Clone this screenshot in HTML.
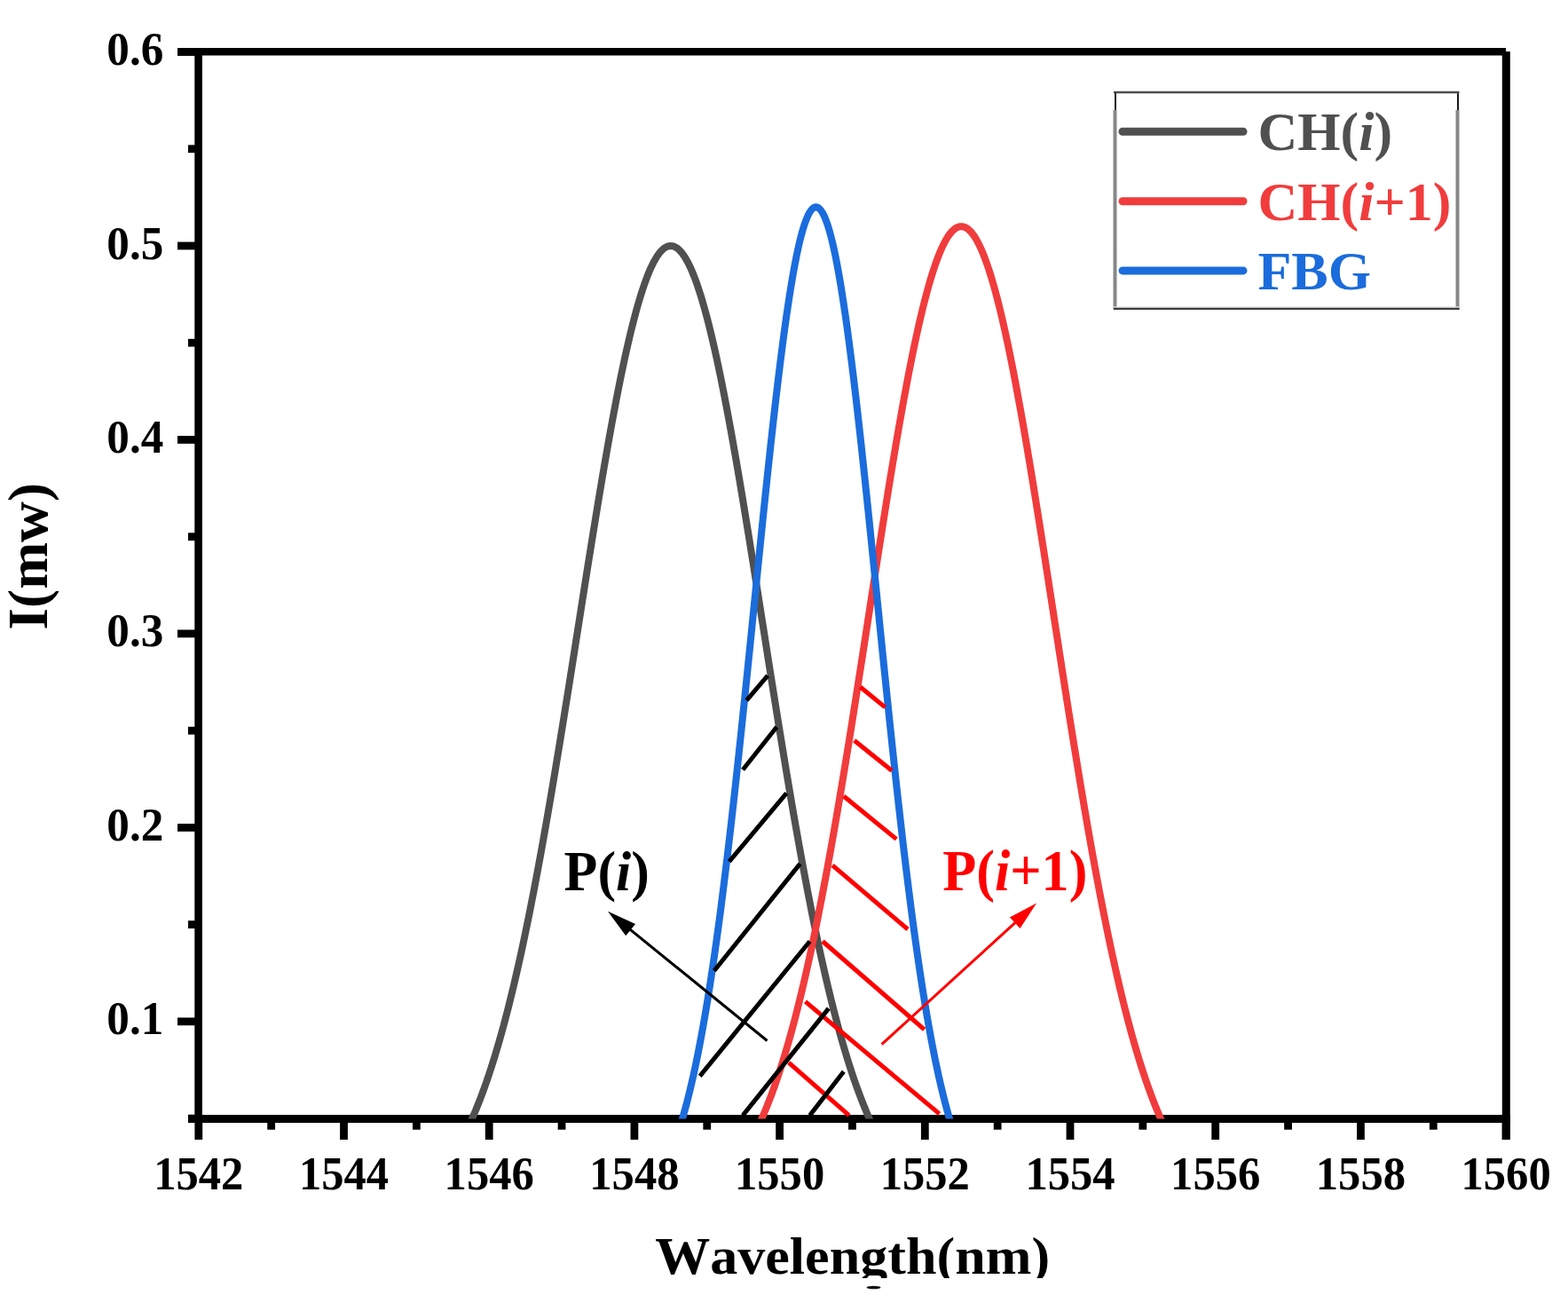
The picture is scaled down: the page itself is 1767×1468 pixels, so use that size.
<!DOCTYPE html>
<html><head><meta charset="utf-8"><title>Spectrum</title>
<style>
html,body{margin:0;padding:0;background:#fff;overflow:hidden;}
svg{display:block;}
text{font-family:"Liberation Serif","Times New Roman",serif;font-weight:bold;font-kerning:none;}
</style></head>
<body>
<svg width="1767" height="1468" viewBox="0 0 1767 1468">
<defs><clipPath id="plot"><rect x="0" y="0" width="1767" height="1260.5"/></clipPath></defs>
<rect width="1767" height="1468" fill="#fff"/>

<line x1="223.6" y1="54" x2="223.6" y2="1265" stroke="#000" stroke-width="8.6"/>
<line x1="212" y1="1260.5" x2="1702" y2="1260.5" stroke="#000" stroke-width="9"/>
<line x1="200" y1="58.2" x2="1697" y2="58.2" stroke="#000" stroke-width="8.5"/>
<line x1="1697.3" y1="58" x2="1697.3" y2="1284" stroke="#000" stroke-width="9"/>

<line x1="212" y1="1260.11" x2="224" y2="1260.11" stroke="#000" stroke-width="8.8"/><line x1="200" y1="1150.88" x2="224" y2="1150.88" stroke="#000" stroke-width="8.8"/><line x1="212" y1="1041.64" x2="224" y2="1041.64" stroke="#000" stroke-width="8.8"/><line x1="200" y1="932.40" x2="224" y2="932.40" stroke="#000" stroke-width="8.8"/><line x1="212" y1="823.16" x2="224" y2="823.16" stroke="#000" stroke-width="8.8"/><line x1="200" y1="713.92" x2="224" y2="713.92" stroke="#000" stroke-width="8.8"/><line x1="212" y1="604.69" x2="224" y2="604.69" stroke="#000" stroke-width="8.8"/><line x1="200" y1="495.45" x2="224" y2="495.45" stroke="#000" stroke-width="8.8"/><line x1="212" y1="386.21" x2="224" y2="386.21" stroke="#000" stroke-width="8.8"/><line x1="200" y1="276.97" x2="224" y2="276.97" stroke="#000" stroke-width="8.8"/><line x1="212" y1="167.74" x2="224" y2="167.74" stroke="#000" stroke-width="8.8"/><line x1="200" y1="58.50" x2="224" y2="58.50" stroke="#000" stroke-width="8.8"/><line x1="223.80" y1="1260" x2="223.80" y2="1284" stroke="#000" stroke-width="8.8"/><line x1="305.65" y1="1260" x2="305.65" y2="1272.7" stroke="#000" stroke-width="8.8"/><line x1="387.50" y1="1260" x2="387.50" y2="1284" stroke="#000" stroke-width="8.8"/><line x1="469.35" y1="1260" x2="469.35" y2="1272.7" stroke="#000" stroke-width="8.8"/><line x1="551.20" y1="1260" x2="551.20" y2="1284" stroke="#000" stroke-width="8.8"/><line x1="633.05" y1="1260" x2="633.05" y2="1272.7" stroke="#000" stroke-width="8.8"/><line x1="714.90" y1="1260" x2="714.90" y2="1284" stroke="#000" stroke-width="8.8"/><line x1="796.75" y1="1260" x2="796.75" y2="1272.7" stroke="#000" stroke-width="8.8"/><line x1="878.60" y1="1260" x2="878.60" y2="1284" stroke="#000" stroke-width="8.8"/><line x1="960.45" y1="1260" x2="960.45" y2="1272.7" stroke="#000" stroke-width="8.8"/><line x1="1042.30" y1="1260" x2="1042.30" y2="1284" stroke="#000" stroke-width="8.8"/><line x1="1124.15" y1="1260" x2="1124.15" y2="1272.7" stroke="#000" stroke-width="8.8"/><line x1="1206.00" y1="1260" x2="1206.00" y2="1284" stroke="#000" stroke-width="8.8"/><line x1="1287.85" y1="1260" x2="1287.85" y2="1272.7" stroke="#000" stroke-width="8.8"/><line x1="1369.70" y1="1260" x2="1369.70" y2="1284" stroke="#000" stroke-width="8.8"/><line x1="1451.55" y1="1260" x2="1451.55" y2="1272.7" stroke="#000" stroke-width="8.8"/><line x1="1533.40" y1="1260" x2="1533.40" y2="1284" stroke="#000" stroke-width="8.8"/><line x1="1615.25" y1="1260" x2="1615.25" y2="1272.7" stroke="#000" stroke-width="8.8"/><line x1="1697.10" y1="1260" x2="1697.10" y2="1284" stroke="#000" stroke-width="8.8"/>
<path d="M387.50,1367.22 L389.34,1367.08 L391.18,1366.93 L393.02,1366.78 L394.87,1366.62 L396.71,1366.45 L398.55,1366.27 L400.39,1366.07 L402.23,1365.87 L404.07,1365.66 L405.92,1365.43 L407.76,1365.19 L409.60,1364.94 L411.44,1364.67 L413.28,1364.39 L415.12,1364.10 L416.97,1363.79 L418.81,1363.46 L420.65,1363.12 L422.49,1362.75 L424.33,1362.37 L426.17,1361.97 L428.02,1361.55 L429.86,1361.10 L431.70,1360.63 L433.54,1360.14 L435.38,1359.63 L437.22,1359.09 L439.07,1358.52 L440.91,1357.93 L442.75,1357.30 L444.59,1356.65 L446.43,1355.96 L448.27,1355.24 L450.12,1354.49 L451.96,1353.71 L453.80,1352.88 L455.64,1352.02 L457.48,1351.12 L459.32,1350.18 L461.17,1349.19 L463.01,1348.16 L464.85,1347.09 L466.69,1345.97 L468.53,1344.80 L470.37,1343.58 L472.21,1342.31 L474.06,1340.98 L475.90,1339.60 L477.74,1338.16 L479.58,1336.66 L481.42,1335.10 L483.26,1333.48 L485.11,1331.79 L486.95,1330.03 L488.79,1328.21 L490.63,1326.31 L492.47,1324.34 L494.31,1322.29 L496.16,1320.17 L498.00,1317.97 L499.84,1315.68 L501.68,1313.31 L503.52,1310.86 L505.36,1308.31 L507.21,1305.68 L509.05,1302.95 L510.89,1300.12 L512.73,1297.20 L514.57,1294.18 L516.41,1291.06 L518.26,1287.83 L520.10,1284.50 L521.94,1281.06 L523.78,1277.50 L525.62,1273.84 L527.46,1270.05 L529.31,1266.16 L531.15,1262.14 L532.99,1257.99 L534.83,1253.73 L536.67,1249.34 L538.51,1244.82 L540.35,1240.17 L542.20,1235.39 L544.04,1230.48 L545.88,1225.43 L547.72,1220.24 L549.56,1214.92 L551.40,1209.45 L553.25,1203.84 L555.09,1198.09 L556.93,1192.20 L558.77,1186.16 L560.61,1179.97 L562.45,1173.63 L564.30,1167.15 L566.14,1160.51 L567.98,1153.73 L569.82,1146.79 L571.66,1139.71 L573.50,1132.47 L575.35,1125.08 L577.19,1117.53 L579.03,1109.84 L580.87,1101.99 L582.71,1093.99 L584.55,1085.85 L586.40,1077.55 L588.24,1069.10 L590.08,1060.50 L591.92,1051.76 L593.76,1042.87 L595.60,1033.84 L597.45,1024.66 L599.29,1015.34 L601.13,1005.89 L602.97,996.30 L604.81,986.58 L606.65,976.72 L608.50,966.74 L610.34,956.63 L612.18,946.40 L614.02,936.05 L615.86,925.58 L617.70,915.01 L619.54,904.33 L621.39,893.54 L623.23,882.66 L625.07,871.69 L626.91,860.62 L628.75,849.47 L630.59,838.25 L632.44,826.94 L634.28,815.58 L636.12,804.15 L637.96,792.66 L639.80,781.12 L641.64,769.54 L643.49,757.93 L645.33,746.28 L647.17,734.61 L649.01,722.92 L650.85,711.22 L652.69,699.52 L654.54,687.82 L656.38,676.14 L658.22,664.47 L660.06,652.84 L661.90,641.23 L663.74,629.67 L665.59,618.16 L667.43,606.71 L669.27,595.33 L671.11,584.02 L672.95,572.80 L674.79,561.66 L676.64,550.63 L678.48,539.70 L680.32,528.89 L682.16,518.21 L684.00,507.66 L685.84,497.25 L687.68,486.99 L689.53,476.88 L691.37,466.95 L693.21,457.18 L695.05,447.60 L696.89,438.21 L698.73,429.02 L700.58,420.03 L702.42,411.25 L704.26,402.70 L706.10,394.37 L707.94,386.28 L709.78,378.43 L711.63,370.83 L713.47,363.48 L715.31,356.40 L717.15,349.58 L718.99,343.04 L720.83,336.78 L722.68,330.80 L724.52,325.12 L726.36,319.73 L728.20,314.64 L730.04,309.86 L731.88,305.39 L733.73,301.23 L735.57,297.40 L737.41,293.88 L739.25,290.69 L741.09,287.82 L742.93,285.29 L744.78,283.09 L746.62,281.23 L748.46,279.70 L750.30,278.51 L752.14,277.66 L753.98,277.15 L755.83,276.97 L757.67,277.15 L759.51,277.66 L761.35,278.51 L763.19,279.70 L765.03,281.23 L766.87,283.09 L768.72,285.29 L770.56,287.82 L772.40,290.69 L774.24,293.88 L776.08,297.40 L777.92,301.23 L779.77,305.39 L781.61,309.86 L783.45,314.64 L785.29,319.73 L787.13,325.12 L788.97,330.80 L790.82,336.78 L792.66,343.04 L794.50,349.58 L796.34,356.40 L798.18,363.48 L800.02,370.83 L801.87,378.43 L803.71,386.28 L805.55,394.37 L807.39,402.70 L809.23,411.25 L811.07,420.03 L812.92,429.02 L814.76,438.21 L816.60,447.60 L818.44,457.18 L820.28,466.95 L822.12,476.88 L823.97,486.99 L825.81,497.25 L827.65,507.66 L829.49,518.21 L831.33,528.89 L833.17,539.70 L835.01,550.63 L836.86,561.66 L838.70,572.80 L840.54,584.02 L842.38,595.33 L844.22,606.71 L846.06,618.16 L847.91,629.67 L849.75,641.23 L851.59,652.84 L853.43,664.47 L855.27,676.14 L857.11,687.82 L858.96,699.52 L860.80,711.22 L862.64,722.92 L864.48,734.61 L866.32,746.28 L868.16,757.93 L870.01,769.54 L871.85,781.12 L873.69,792.66 L875.53,804.15 L877.37,815.58 L879.21,826.94 L881.06,838.25 L882.90,849.47 L884.74,860.62 L886.58,871.69 L888.42,882.66 L890.26,893.54 L892.11,904.33 L893.95,915.01 L895.79,925.58 L897.63,936.05 L899.47,946.40 L901.31,956.63 L903.15,966.74 L905.00,976.72 L906.84,986.58 L908.68,996.30 L910.52,1005.89 L912.36,1015.34 L914.20,1024.66 L916.05,1033.84 L917.89,1042.87 L919.73,1051.76 L921.57,1060.50 L923.41,1069.10 L925.25,1077.55 L927.10,1085.85 L928.94,1093.99 L930.78,1101.99 L932.62,1109.84 L934.46,1117.53 L936.30,1125.08 L938.15,1132.47 L939.99,1139.71 L941.83,1146.79 L943.67,1153.73 L945.51,1160.51 L947.35,1167.15 L949.20,1173.63 L951.04,1179.97 L952.88,1186.16 L954.72,1192.20 L956.56,1198.09 L958.40,1203.84 L960.25,1209.45 L962.09,1214.92 L963.93,1220.24 L965.77,1225.43 L967.61,1230.48 L969.45,1235.39 L971.30,1240.17 L973.14,1244.82 L974.98,1249.34 L976.82,1253.73 L978.66,1257.99 L980.50,1262.14 L982.34,1266.16 L984.19,1270.05 L986.03,1273.84 L987.87,1277.50 L989.71,1281.06 L991.55,1284.50 L993.39,1287.83 L995.24,1291.06 L997.08,1294.18 L998.92,1297.20 L1000.76,1300.12 L1002.60,1302.95 L1004.44,1305.68 L1006.29,1308.31 L1008.13,1310.86 L1009.97,1313.31 L1011.81,1315.68 L1013.65,1317.97 L1015.49,1320.17 L1017.34,1322.29 L1019.18,1324.34 L1021.02,1326.31 L1022.86,1328.21 L1024.70,1330.03 L1026.54,1331.79 L1028.39,1333.48 L1030.23,1335.10 L1032.07,1336.66 L1033.91,1338.16 L1035.75,1339.60 L1037.59,1340.98 L1039.44,1342.31 L1041.28,1343.58 L1043.12,1344.80 L1044.96,1345.97 L1046.80,1347.09 L1048.64,1348.16 L1050.48,1349.19 L1052.33,1350.18 L1054.17,1351.12 L1056.01,1352.02 L1057.85,1352.88 L1059.69,1353.71 L1061.53,1354.49 L1063.38,1355.24 L1065.22,1355.96 L1067.06,1356.65 L1068.90,1357.30 L1070.74,1357.93 L1072.58,1358.52 L1074.43,1359.09 L1076.27,1359.63 L1078.11,1360.14 L1079.95,1360.63 L1081.79,1361.10 L1083.63,1361.55 L1085.48,1361.97 L1087.32,1362.37 L1089.16,1362.75 L1091.00,1363.12 L1092.84,1363.46 L1094.68,1363.79 L1096.53,1364.10 L1098.37,1364.39 L1100.21,1364.67 L1102.05,1364.94 L1103.89,1365.19 L1105.73,1365.43 L1107.58,1365.66 L1109.42,1365.87 L1111.26,1366.07 L1113.10,1366.27 L1114.94,1366.45 L1116.78,1366.62 L1118.63,1366.78 L1120.47,1366.93 L1122.31,1367.08 L1124.15,1367.22" fill="none" stroke="#505050" stroke-width="8" stroke-linejoin="round" clip-path="url(#plot)"/><path d="M714.90,1367.17 L716.74,1367.03 L718.58,1366.89 L720.42,1366.73 L722.27,1366.56 L724.11,1366.39 L725.95,1366.20 L727.79,1366.01 L729.63,1365.80 L731.47,1365.58 L733.32,1365.35 L735.16,1365.11 L737.00,1364.85 L738.84,1364.58 L740.68,1364.29 L742.52,1363.99 L744.37,1363.68 L746.21,1363.34 L748.05,1362.99 L749.89,1362.62 L751.73,1362.23 L753.57,1361.82 L755.42,1361.39 L757.26,1360.94 L759.10,1360.46 L760.94,1359.96 L762.78,1359.43 L764.62,1358.88 L766.47,1358.30 L768.31,1357.70 L770.15,1357.06 L771.99,1356.39 L773.83,1355.69 L775.67,1354.96 L777.52,1354.20 L779.36,1353.39 L781.20,1352.55 L783.04,1351.67 L784.88,1350.75 L786.72,1349.79 L788.57,1348.79 L790.41,1347.74 L792.25,1346.65 L794.09,1345.50 L795.93,1344.31 L797.77,1343.06 L799.61,1341.77 L801.46,1340.41 L803.30,1339.00 L805.14,1337.54 L806.98,1336.01 L808.82,1334.42 L810.66,1332.76 L812.51,1331.04 L814.35,1329.24 L816.19,1327.38 L818.03,1325.45 L819.87,1323.44 L821.71,1321.35 L823.56,1319.19 L825.40,1316.94 L827.24,1314.61 L829.08,1312.19 L830.92,1309.69 L832.76,1307.09 L834.61,1304.40 L836.45,1301.62 L838.29,1298.74 L840.13,1295.76 L841.97,1292.68 L843.81,1289.49 L845.66,1286.20 L847.50,1282.80 L849.34,1279.29 L851.18,1275.67 L853.02,1271.93 L854.86,1268.07 L856.71,1264.09 L858.55,1259.99 L860.39,1255.77 L862.23,1251.42 L864.07,1246.94 L865.91,1242.33 L867.75,1237.59 L869.60,1232.71 L871.44,1227.70 L873.28,1222.55 L875.12,1217.26 L876.96,1211.83 L878.80,1206.25 L880.65,1200.53 L882.49,1194.67 L884.33,1188.65 L886.17,1182.49 L888.01,1176.18 L889.85,1169.72 L891.70,1163.10 L893.54,1156.34 L895.38,1149.42 L897.22,1142.34 L899.06,1135.11 L900.90,1127.73 L902.75,1120.19 L904.59,1112.50 L906.43,1104.65 L908.27,1096.65 L910.11,1088.49 L911.95,1080.18 L913.80,1071.71 L915.64,1063.09 L917.48,1054.33 L919.32,1045.41 L921.16,1036.34 L923.00,1027.13 L924.85,1017.77 L926.69,1008.26 L928.53,998.62 L930.37,988.84 L932.21,978.92 L934.05,968.87 L935.90,958.68 L937.74,948.37 L939.58,937.94 L941.42,927.38 L943.26,916.71 L945.10,905.92 L946.94,895.03 L948.79,884.03 L950.63,872.93 L952.47,861.73 L954.31,850.45 L956.15,839.08 L957.99,827.62 L959.84,816.10 L961.68,804.50 L963.52,792.84 L965.36,781.13 L967.20,769.36 L969.04,757.55 L970.89,745.70 L972.73,733.82 L974.57,721.91 L976.41,709.99 L978.25,698.06 L980.09,686.12 L981.94,674.19 L983.78,662.27 L985.62,650.38 L987.46,638.51 L989.30,626.67 L991.14,614.88 L992.99,603.14 L994.83,591.46 L996.67,579.85 L998.51,568.31 L1000.35,556.87 L1002.19,545.51 L1004.04,534.25 L1005.88,523.11 L1007.72,512.09 L1009.56,501.19 L1011.40,490.42 L1013.24,479.81 L1015.08,469.34 L1016.93,459.04 L1018.77,448.90 L1020.61,438.94 L1022.45,429.17 L1024.29,419.59 L1026.13,410.21 L1027.98,401.04 L1029.82,392.09 L1031.66,383.37 L1033.50,374.87 L1035.34,366.62 L1037.18,358.61 L1039.03,350.86 L1040.87,343.36 L1042.71,336.14 L1044.55,329.19 L1046.39,322.51 L1048.23,316.13 L1050.08,310.03 L1051.92,304.23 L1053.76,298.74 L1055.60,293.55 L1057.44,288.67 L1059.28,284.11 L1061.13,279.87 L1062.97,275.96 L1064.81,272.37 L1066.65,269.11 L1068.49,266.19 L1070.33,263.61 L1072.18,261.37 L1074.02,259.46 L1075.86,257.90 L1077.70,256.69 L1079.54,255.82 L1081.38,255.30 L1083.22,255.13 L1085.07,255.30 L1086.91,255.82 L1088.75,256.69 L1090.59,257.90 L1092.43,259.46 L1094.27,261.37 L1096.12,263.61 L1097.96,266.19 L1099.80,269.11 L1101.64,272.37 L1103.48,275.96 L1105.32,279.87 L1107.17,284.11 L1109.01,288.67 L1110.85,293.55 L1112.69,298.74 L1114.53,304.23 L1116.37,310.03 L1118.22,316.13 L1120.06,322.51 L1121.90,329.19 L1123.74,336.14 L1125.58,343.36 L1127.42,350.86 L1129.27,358.61 L1131.11,366.62 L1132.95,374.87 L1134.79,383.37 L1136.63,392.09 L1138.47,401.04 L1140.32,410.21 L1142.16,419.59 L1144.00,429.17 L1145.84,438.94 L1147.68,448.90 L1149.52,459.04 L1151.37,469.34 L1153.21,479.81 L1155.05,490.42 L1156.89,501.19 L1158.73,512.09 L1160.57,523.11 L1162.41,534.25 L1164.26,545.51 L1166.10,556.87 L1167.94,568.31 L1169.78,579.85 L1171.62,591.46 L1173.46,603.14 L1175.31,614.88 L1177.15,626.67 L1178.99,638.51 L1180.83,650.38 L1182.67,662.27 L1184.51,674.19 L1186.36,686.12 L1188.20,698.06 L1190.04,709.99 L1191.88,721.91 L1193.72,733.82 L1195.56,745.70 L1197.41,757.55 L1199.25,769.36 L1201.09,781.13 L1202.93,792.84 L1204.77,804.50 L1206.61,816.10 L1208.46,827.62 L1210.30,839.08 L1212.14,850.45 L1213.98,861.73 L1215.82,872.93 L1217.66,884.03 L1219.51,895.03 L1221.35,905.92 L1223.19,916.71 L1225.03,927.38 L1226.87,937.94 L1228.71,948.37 L1230.55,958.68 L1232.40,968.87 L1234.24,978.92 L1236.08,988.84 L1237.92,998.62 L1239.76,1008.26 L1241.60,1017.77 L1243.45,1027.13 L1245.29,1036.34 L1247.13,1045.41 L1248.97,1054.33 L1250.81,1063.09 L1252.65,1071.71 L1254.50,1080.18 L1256.34,1088.49 L1258.18,1096.65 L1260.02,1104.65 L1261.86,1112.50 L1263.70,1120.19 L1265.55,1127.73 L1267.39,1135.11 L1269.23,1142.34 L1271.07,1149.42 L1272.91,1156.34 L1274.75,1163.10 L1276.60,1169.72 L1278.44,1176.18 L1280.28,1182.49 L1282.12,1188.65 L1283.96,1194.67 L1285.80,1200.53 L1287.65,1206.25 L1289.49,1211.83 L1291.33,1217.26 L1293.17,1222.55 L1295.01,1227.70 L1296.85,1232.71 L1298.70,1237.59 L1300.54,1242.33 L1302.38,1246.94 L1304.22,1251.42 L1306.06,1255.77 L1307.90,1259.99 L1309.74,1264.09 L1311.59,1268.07 L1313.43,1271.93 L1315.27,1275.67 L1317.11,1279.29 L1318.95,1282.80 L1320.79,1286.20 L1322.64,1289.49 L1324.48,1292.68 L1326.32,1295.76 L1328.16,1298.74 L1330.00,1301.62 L1331.84,1304.40 L1333.69,1307.09 L1335.53,1309.69 L1337.37,1312.19 L1339.21,1314.61 L1341.05,1316.94 L1342.89,1319.19 L1344.74,1321.35 L1346.58,1323.44 L1348.42,1325.45 L1350.26,1327.38 L1352.10,1329.24 L1353.94,1331.04 L1355.79,1332.76 L1357.63,1334.42 L1359.47,1336.01 L1361.31,1337.54 L1363.15,1339.00 L1364.99,1340.41 L1366.84,1341.77 L1368.68,1343.06 L1370.52,1344.31 L1372.36,1345.50 L1374.20,1346.65 L1376.04,1347.74 L1377.88,1348.79 L1379.73,1349.79 L1381.57,1350.75 L1383.41,1351.67 L1385.25,1352.55 L1387.09,1353.39 L1388.93,1354.20 L1390.78,1354.96 L1392.62,1355.69 L1394.46,1356.39 L1396.30,1357.06 L1398.14,1357.70 L1399.98,1358.30 L1401.83,1358.88 L1403.67,1359.43 L1405.51,1359.96 L1407.35,1360.46 L1409.19,1360.94 L1411.03,1361.39 L1412.88,1361.82 L1414.72,1362.23 L1416.56,1362.62 L1418.40,1362.99 L1420.24,1363.34 L1422.08,1363.68 L1423.93,1363.99 L1425.77,1364.29 L1427.61,1364.58 L1429.45,1364.85 L1431.29,1365.11 L1433.13,1365.35 L1434.98,1365.58 L1436.82,1365.80 L1438.66,1366.01 L1440.50,1366.20 L1442.34,1366.39 L1444.18,1366.56 L1446.03,1366.73 L1447.87,1366.89 L1449.71,1367.03 L1451.55,1367.17" fill="none" stroke="#f03c3c" stroke-width="8" stroke-linejoin="round" clip-path="url(#plot)"/><path d="M551.20,1369.35 L553.04,1369.35 L554.88,1369.35 L556.72,1369.35 L558.57,1369.35 L560.41,1369.35 L562.25,1369.35 L564.09,1369.35 L565.93,1369.35 L567.77,1369.35 L569.62,1369.35 L571.46,1369.35 L573.30,1369.35 L575.14,1369.34 L576.98,1369.34 L578.82,1369.34 L580.67,1369.34 L582.51,1369.34 L584.35,1369.34 L586.19,1369.34 L588.03,1369.34 L589.87,1369.34 L591.72,1369.33 L593.56,1369.33 L595.40,1369.33 L597.24,1369.33 L599.08,1369.32 L600.92,1369.32 L602.77,1369.31 L604.61,1369.31 L606.45,1369.31 L608.29,1369.30 L610.13,1369.29 L611.97,1369.29 L613.82,1369.28 L615.66,1369.27 L617.50,1369.26 L619.34,1369.25 L621.18,1369.24 L623.02,1369.22 L624.87,1369.21 L626.71,1369.19 L628.55,1369.17 L630.39,1369.15 L632.23,1369.13 L634.07,1369.10 L635.91,1369.07 L637.76,1369.04 L639.60,1369.01 L641.44,1368.97 L643.28,1368.93 L645.12,1368.88 L646.96,1368.83 L648.81,1368.77 L650.65,1368.71 L652.49,1368.64 L654.33,1368.56 L656.17,1368.48 L658.01,1368.39 L659.86,1368.29 L661.70,1368.18 L663.54,1368.06 L665.38,1367.93 L667.22,1367.78 L669.06,1367.63 L670.91,1367.45 L672.75,1367.27 L674.59,1367.06 L676.43,1366.84 L678.27,1366.59 L680.11,1366.33 L681.96,1366.04 L683.80,1365.73 L685.64,1365.39 L687.48,1365.03 L689.32,1364.63 L691.16,1364.20 L693.01,1363.73 L694.85,1363.22 L696.69,1362.68 L698.53,1362.09 L700.37,1361.46 L702.21,1360.77 L704.05,1360.03 L705.90,1359.24 L707.74,1358.39 L709.58,1357.47 L711.42,1356.48 L713.26,1355.43 L715.10,1354.29 L716.95,1353.08 L718.79,1351.78 L720.63,1350.39 L722.47,1348.90 L724.31,1347.32 L726.15,1345.62 L728.00,1343.82 L729.84,1341.89 L731.68,1339.85 L733.52,1337.67 L735.36,1335.35 L737.20,1332.89 L739.05,1330.28 L740.89,1327.52 L742.73,1324.59 L744.57,1321.48 L746.41,1318.20 L748.25,1314.73 L750.10,1311.07 L751.94,1307.20 L753.78,1303.13 L755.62,1298.84 L757.46,1294.32 L759.30,1289.57 L761.15,1284.57 L762.99,1279.33 L764.83,1273.83 L766.67,1268.06 L768.51,1262.03 L770.35,1255.71 L772.20,1249.10 L774.04,1242.21 L775.88,1235.00 L777.72,1227.49 L779.56,1219.67 L781.40,1211.53 L783.24,1203.05 L785.09,1194.25 L786.93,1185.11 L788.77,1175.63 L790.61,1165.80 L792.45,1155.63 L794.29,1145.10 L796.14,1134.23 L797.98,1122.99 L799.82,1111.40 L801.66,1099.46 L803.50,1087.16 L805.34,1074.51 L807.19,1061.50 L809.03,1048.15 L810.87,1034.45 L812.71,1020.42 L814.55,1006.05 L816.39,991.35 L818.24,976.34 L820.08,961.01 L821.92,945.39 L823.76,929.48 L825.60,913.29 L827.44,896.84 L829.29,880.13 L831.13,863.19 L832.97,846.04 L834.81,828.68 L836.65,811.13 L838.49,793.43 L840.34,775.57 L842.18,757.59 L844.02,739.52 L845.86,721.36 L847.70,703.14 L849.54,684.90 L851.38,666.64 L853.23,648.41 L855.07,630.22 L856.91,612.11 L858.75,594.09 L860.59,576.21 L862.43,558.48 L864.28,540.93 L866.12,523.60 L867.96,506.52 L869.80,489.70 L871.64,473.19 L873.48,457.01 L875.33,441.19 L877.17,425.75 L879.01,410.73 L880.85,396.16 L882.69,382.06 L884.53,368.45 L886.38,355.37 L888.22,342.84 L890.06,330.89 L891.90,319.53 L893.74,308.79 L895.58,298.69 L897.43,289.26 L899.27,280.51 L901.11,272.45 L902.95,265.12 L904.79,258.51 L906.63,252.65 L908.48,247.54 L910.32,243.20 L912.16,239.64 L914.00,236.86 L915.84,234.87 L917.68,233.68 L919.52,233.28 L921.37,233.68 L923.21,234.87 L925.05,236.86 L926.89,239.64 L928.73,243.20 L930.57,247.54 L932.42,252.65 L934.26,258.51 L936.10,265.12 L937.94,272.45 L939.78,280.51 L941.62,289.26 L943.47,298.69 L945.31,308.79 L947.15,319.53 L948.99,330.89 L950.83,342.84 L952.67,355.37 L954.52,368.45 L956.36,382.06 L958.20,396.16 L960.04,410.73 L961.88,425.75 L963.72,441.19 L965.57,457.01 L967.41,473.19 L969.25,489.70 L971.09,506.52 L972.93,523.60 L974.77,540.93 L976.62,558.48 L978.46,576.21 L980.30,594.09 L982.14,612.11 L983.98,630.22 L985.82,648.41 L987.67,666.64 L989.51,684.90 L991.35,703.14 L993.19,721.36 L995.03,739.52 L996.87,757.59 L998.71,775.57 L1000.56,793.43 L1002.40,811.13 L1004.24,828.68 L1006.08,846.04 L1007.92,863.19 L1009.76,880.13 L1011.61,896.84 L1013.45,913.29 L1015.29,929.48 L1017.13,945.39 L1018.97,961.01 L1020.81,976.34 L1022.66,991.35 L1024.50,1006.05 L1026.34,1020.42 L1028.18,1034.45 L1030.02,1048.15 L1031.86,1061.50 L1033.71,1074.51 L1035.55,1087.16 L1037.39,1099.46 L1039.23,1111.40 L1041.07,1122.99 L1042.91,1134.23 L1044.76,1145.10 L1046.60,1155.63 L1048.44,1165.80 L1050.28,1175.63 L1052.12,1185.11 L1053.96,1194.25 L1055.81,1203.05 L1057.65,1211.53 L1059.49,1219.67 L1061.33,1227.49 L1063.17,1235.00 L1065.01,1242.21 L1066.85,1249.10 L1068.70,1255.71 L1070.54,1262.03 L1072.38,1268.06 L1074.22,1273.83 L1076.06,1279.33 L1077.90,1284.57 L1079.75,1289.57 L1081.59,1294.32 L1083.43,1298.84 L1085.27,1303.13 L1087.11,1307.20 L1088.95,1311.07 L1090.80,1314.73 L1092.64,1318.20 L1094.48,1321.48 L1096.32,1324.59 L1098.16,1327.52 L1100.00,1330.28 L1101.85,1332.89 L1103.69,1335.35 L1105.53,1337.67 L1107.37,1339.85 L1109.21,1341.89 L1111.05,1343.82 L1112.90,1345.62 L1114.74,1347.32 L1116.58,1348.90 L1118.42,1350.39 L1120.26,1351.78 L1122.10,1353.08 L1123.95,1354.29 L1125.79,1355.43 L1127.63,1356.48 L1129.47,1357.47 L1131.31,1358.39 L1133.15,1359.24 L1135.00,1360.03 L1136.84,1360.77 L1138.68,1361.46 L1140.52,1362.09 L1142.36,1362.68 L1144.20,1363.22 L1146.04,1363.73 L1147.89,1364.20 L1149.73,1364.63 L1151.57,1365.03 L1153.41,1365.39 L1155.25,1365.73 L1157.09,1366.04 L1158.94,1366.33 L1160.78,1366.59 L1162.62,1366.84 L1164.46,1367.06 L1166.30,1367.27 L1168.14,1367.45 L1169.99,1367.63 L1171.83,1367.78 L1173.67,1367.93 L1175.51,1368.06 L1177.35,1368.18 L1179.19,1368.29 L1181.04,1368.39 L1182.88,1368.48 L1184.72,1368.56 L1186.56,1368.64 L1188.40,1368.71 L1190.24,1368.77 L1192.09,1368.83 L1193.93,1368.88 L1195.77,1368.93 L1197.61,1368.97 L1199.45,1369.01 L1201.29,1369.04 L1203.14,1369.07 L1204.98,1369.10 L1206.82,1369.13 L1208.66,1369.15 L1210.50,1369.17 L1212.34,1369.19 L1214.18,1369.21 L1216.03,1369.22 L1217.87,1369.24 L1219.71,1369.25 L1221.55,1369.26 L1223.39,1369.27 L1225.23,1369.28 L1227.08,1369.29 L1228.92,1369.29 L1230.76,1369.30 L1232.60,1369.31 L1234.44,1369.31 L1236.28,1369.31 L1238.13,1369.32 L1239.97,1369.32 L1241.81,1369.33 L1243.65,1369.33 L1245.49,1369.33 L1247.33,1369.33 L1249.18,1369.34 L1251.02,1369.34 L1252.86,1369.34 L1254.70,1369.34 L1256.54,1369.34 L1258.38,1369.34 L1260.23,1369.34 L1262.07,1369.34 L1263.91,1369.34 L1265.75,1369.35 L1267.59,1369.35 L1269.43,1369.35 L1271.28,1369.35 L1273.12,1369.35 L1274.96,1369.35 L1276.80,1369.35 L1278.64,1369.35 L1280.48,1369.35 L1282.33,1369.35 L1284.17,1369.35 L1286.01,1369.35 L1287.85,1369.35" fill="none" stroke="#1b6cdc" stroke-width="8" stroke-linejoin="round" clip-path="url(#plot)"/>
<line x1="969.5" y1="774" x2="997.5" y2="796.9" stroke="#f00" stroke-width="5"/><line x1="962.7" y1="834.2" x2="1005.1" y2="868.2" stroke="#f00" stroke-width="5"/><line x1="950.8" y1="897" x2="1010.2" y2="945.4" stroke="#f00" stroke-width="5"/><line x1="938.1" y1="974.8" x2="1023" y2="1047" stroke="#f00" stroke-width="5"/><line x1="927" y1="1060.5" x2="1041.6" y2="1159.8" stroke="#f00" stroke-width="5"/><line x1="907.5" y1="1128.4" x2="1058.6" y2="1254.9" stroke="#f00" stroke-width="5"/><line x1="888.8" y1="1197.1" x2="956.8" y2="1256.6" stroke="#f00" stroke-width="5"/><line x1="841.3" y1="789.2" x2="865.1" y2="761.2" stroke="#000" stroke-width="5"/><line x1="837.1" y1="867.3" x2="875.3" y2="819" stroke="#000" stroke-width="5"/><line x1="821.8" y1="970.6" x2="886.3" y2="893.6" stroke="#000" stroke-width="5"/><line x1="804.8" y1="1093.7" x2="901.6" y2="973.1" stroke="#000" stroke-width="5"/><line x1="788.7" y1="1212.4" x2="912.6" y2="1060.5" stroke="#000" stroke-width="5"/><line x1="837.1" y1="1256.6" x2="933.8" y2="1136.1" stroke="#000" stroke-width="5"/><line x1="912.6" y1="1256.6" x2="950.8" y2="1207.3" stroke="#000" stroke-width="5"/>
<line x1="707.52" y1="1045.08" x2="864.5" y2="1172.5" stroke="#000" stroke-width="3.1"/><polygon points="685,1026.8 705.20,1054.27 716.04,1040.92" fill="#000"/><line x1="1146.68" y1="1037.05" x2="993.6" y2="1176.7" stroke="#f00" stroke-width="3.1"/><polygon points="1168.1,1017.5 1137.92,1033.39 1149.52,1046.09" fill="#f00"/>

<rect x="1256.5" y="104" width="386" height="243.8" fill="#fff"/>
<line x1="1256.5" y1="124" x2="1256.5" y2="348.8" stroke="#878787" stroke-width="4"/>
<line x1="1642.5" y1="124" x2="1642.5" y2="348.8" stroke="#878787" stroke-width="4"/>
<line x1="1257" y1="104" x2="1257" y2="124" stroke="#000" stroke-width="1.8"/>
<line x1="1643" y1="104" x2="1643" y2="124" stroke="#000" stroke-width="1.8"/>
<line x1="1255" y1="104" x2="1644.5" y2="104" stroke="#4d4d4d" stroke-width="2.6"/>
<line x1="1255" y1="346" x2="1644.5" y2="346" stroke="#e0e0e0" stroke-width="1.4"/>
<line x1="1255" y1="347.8" x2="1644.5" y2="347.8" stroke="#3c3c3c" stroke-width="2.2"/>
<line x1="1265" y1="148.2" x2="1401" y2="148.2" stroke="#505050" stroke-width="9" stroke-linecap="round"/>
<line x1="1265" y1="226.8" x2="1401" y2="226.8" stroke="#f03c3c" stroke-width="9" stroke-linecap="round"/>
<line x1="1265" y1="304.9" x2="1401" y2="304.9" stroke="#1b6cdc" stroke-width="9" stroke-linecap="round"/>
<text x="1417.5" y="169.2" font-size="62" fill="#505050">CH(<tspan font-style="italic">i</tspan>)</text>
<text x="1417.5" y="247.6" font-size="62" fill="#f03c3c">CH(<tspan font-style="italic">i</tspan>+1)</text>
<text x="1417.5" y="325.5" font-size="62" fill="#1b6cdc">FBG</text>


<text transform="translate(635.6,1002.8) scale(0.975,1)" font-size="63.5" fill="#000">P(<tspan font-style="italic">i</tspan>)</text>
<text transform="translate(1062.2,1002.6) scale(0.935,1)" font-size="66.5" fill="#f00">P(<tspan font-style="italic">i</tspan>+1)</text>

<text transform="translate(184.3,1165.4) scale(0.965,1)" text-anchor="end" font-size="53">0.1</text><text transform="translate(184.3,946.9) scale(0.965,1)" text-anchor="end" font-size="53">0.2</text><text transform="translate(184.3,728.4) scale(0.965,1)" text-anchor="end" font-size="53">0.3</text><text transform="translate(184.3,509.9) scale(0.965,1)" text-anchor="end" font-size="53">0.4</text><text transform="translate(184.3,291.5) scale(0.965,1)" text-anchor="end" font-size="53">0.5</text><text transform="translate(184.3,73.0) scale(0.965,1)" text-anchor="end" font-size="53">0.6</text><text transform="translate(223.8,1340.3) scale(0.955,1)" text-anchor="middle" font-size="53">1542</text><text transform="translate(387.5,1340.3) scale(0.955,1)" text-anchor="middle" font-size="53">1544</text><text transform="translate(551.2,1340.3) scale(0.955,1)" text-anchor="middle" font-size="53">1546</text><text transform="translate(714.9,1340.3) scale(0.955,1)" text-anchor="middle" font-size="53">1548</text><text transform="translate(878.6,1340.3) scale(0.955,1)" text-anchor="middle" font-size="53">1550</text><text transform="translate(1042.3,1340.3) scale(0.955,1)" text-anchor="middle" font-size="53">1552</text><text transform="translate(1206.0,1340.3) scale(0.955,1)" text-anchor="middle" font-size="53">1554</text><text transform="translate(1369.7,1340.3) scale(0.955,1)" text-anchor="middle" font-size="53">1556</text><text transform="translate(1533.4,1340.3) scale(0.955,1)" text-anchor="middle" font-size="53">1558</text><text transform="translate(1697.1,1340.3) scale(0.955,1)" text-anchor="middle" font-size="53">1560</text><text transform="translate(960.6,1435.4) scale(1.035,1)" text-anchor="middle" font-size="60">Wavelength(nm)</text><text transform="translate(52.8,626.8) rotate(-90)" text-anchor="middle" font-size="63.5">I(mw)</text>
<rect x="700" y="1440" width="560" height="8.5" fill="#fff"/>
<ellipse cx="984.5" cy="1450.5" rx="8" ry="1.7" fill="#111"/>
</svg>
</body></html>
